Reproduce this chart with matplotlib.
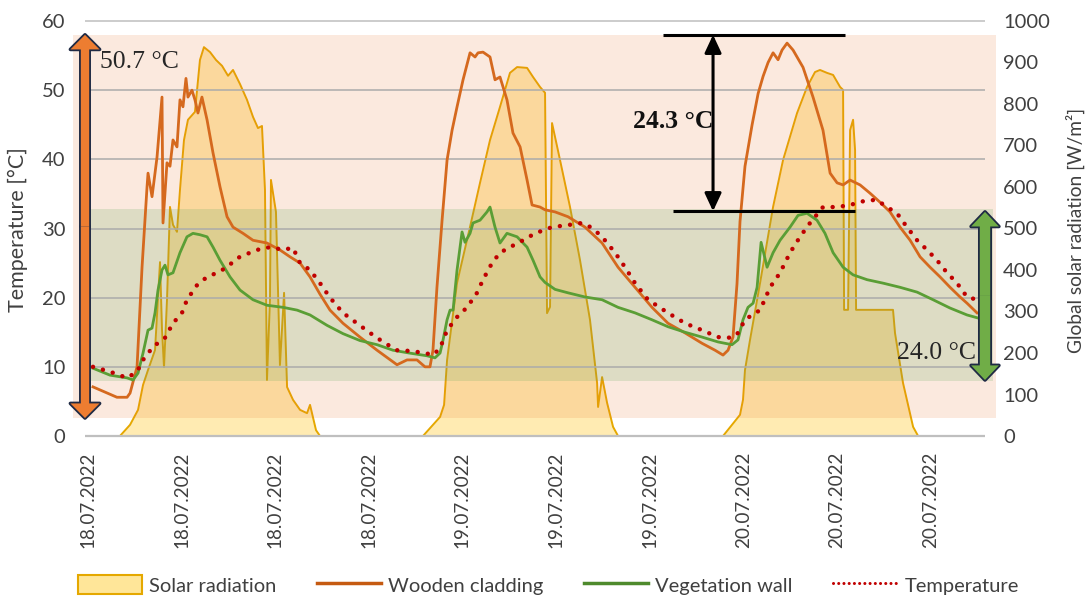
import matplotlib
matplotlib.use("Agg")
import matplotlib.pyplot as plt
from matplotlib.patches import Rectangle, FancyArrowPatch, Patch
from matplotlib.lines import Line2D

# ---------------- data (x in hours from 18.07.2022 00:00) ----------------
solar_h = [0.40, 2.56, 3.37, 4.01, 4.41, 4.81, 5.37, 5.77, 5.93, 6.09, 6.33, 6.57, 6.81,
           7.13, 7.37, 7.69, 8.01, 8.57, 8.97, 9.29, 9.78, 10.26, 10.74, 11.22, 11.62,
           12.18, 12.74, 13.22, 13.62, 13.94, 14.18, 14.34, 14.58, 14.66, 15.06, 15.38,
           15.71, 15.95, 16.43, 16.99, 17.55, 17.79, 18.27, 18.59,
           26.84, 28.21, 28.53, 28.77, 29.57, 30.61, 31.41, 32.21, 33.01, 33.81, 34.38,
           35.18, 35.66, 36.22, 36.62, 36.78, 37.02, 37.18, 37.82, 38.62, 39.42, 40.22,
           40.79, 40.87, 41.19, 41.59, 42.07, 42.47,
           50.88, 52.24, 52.48, 52.64, 53.04, 53.85, 54.89, 55.69, 56.81, 57.61, 58.25,
           58.65, 59.21, 59.70, 60.26, 60.50, 60.58, 60.90, 61.06, 61.30, 61.46, 61.54,
           64.50, 64.66, 65.30, 66.11, 66.51, 71.23]
solar_wm2 = [0, 0, 27, 63, 123, 159, 207, 419, 256, 166, 328, 552, 509,
             492, 593, 713, 762, 781, 906, 937, 925, 906, 892, 868, 882,
             848, 810, 769, 742, 747, 593, 135, 328, 617, 540, 171,
             345, 118, 87, 63, 55, 75, 14, 0,
             0, 46, 75, 183, 369, 504, 610, 713, 793, 875, 889,
             887, 865, 841, 827, 296, 311, 754, 665, 552, 424, 280,
             128, 70, 142, 80, 22, 0,
             0, 51, 87, 159, 231, 369, 552, 665, 778, 841, 877,
             882, 875, 870, 841, 834, 304, 304, 737, 762, 689, 304,
             304, 248, 128, 22, 0, 0]

wood_h = [0.40, 2.32, 3.13, 3.37, 3.93, 4.33, 4.73, 4.81, 5.13, 5.53, 5.93, 6.01, 6.33,
          6.57, 6.81, 7.13, 7.37, 7.61, 7.85, 8.01, 8.33, 8.57, 8.81, 9.13, 9.54, 10.02,
          10.58, 11.14, 11.62, 12.42, 13.22, 14.34, 15.38, 16.19, 16.99, 17.79, 18.59,
          19.39, 20.43, 21.79, 23.16, 24.76, 25.56, 26.36, 27.00, 27.40, 27.64, 27.96,
          28.37, 28.77, 29.17, 29.57, 30.05, 30.61, 31.01, 31.25, 31.65, 32.21, 32.61,
          33.01, 33.57, 34.05, 34.62, 35.18, 35.58, 36.22, 36.62, 37.42, 38.46, 39.82,
          41.19, 42.47, 43.83, 45.19, 46.47, 47.84, 49.20, 50.24, 50.88, 51.28, 51.68,
          52.00, 52.24, 52.64, 53.21, 53.69, 54.09, 54.49, 54.89, 55.29, 55.61, 56.01,
          56.49, 57.29, 58.09, 58.89, 59.46, 60.02, 60.50, 61.06, 61.86, 62.66, 63.46,
          64.26, 65.06, 65.87, 66.67, 67.47, 68.27, 69.07, 69.87, 70.43, 71.23]
wood_c = [7.1, 5.6, 5.6, 6.2, 10.0, 24.4, 36.0, 38.0, 34.6, 40.3, 49.0, 30.8, 39.5,
          39.0, 42.8, 41.8, 48.6, 47.6, 51.7, 49.0, 50.0, 48.6, 46.7, 49.0, 45.7, 40.9,
          36.0, 31.7, 30.2, 29.3, 28.3, 27.9, 26.9, 25.9, 25.0, 23.0, 20.5,
          18.2, 16.3, 14.3, 12.4, 10.3, 11.0, 11.0, 10.0, 10.0, 12.4, 21.5,
          31.2, 39.9, 44.2, 47.6, 51.5, 55.4, 54.8, 55.4, 55.5, 54.8, 51.5,
          51.9, 48.6, 43.8, 41.8, 37.0, 33.4, 33.1, 32.7, 32.4, 31.7, 30.2,
          27.9, 24.4, 21.5, 18.6, 16.3, 14.9, 13.4, 12.4, 11.7, 12.4, 14.3,
          22.0, 31.0, 39.0, 45.0, 49.5, 52.0, 54.0, 55.4, 54.4, 55.8, 56.8,
          55.8, 53.3, 49.0, 44.2, 38.0, 36.6, 36.3, 37.0, 36.3, 35.1, 33.8,
          32.4, 30.2, 28.3, 25.9, 24.4, 23.0, 21.5, 20.1, 19.2, 17.8]

veg_h = [0.40, 1.76, 3.13, 3.61, 4.01, 4.41, 4.81, 5.13, 5.37, 5.61, 5.93, 6.17, 6.41,
         6.81, 7.37, 7.93, 8.41, 8.97, 9.54, 10.02, 10.58, 11.38, 12.18, 13.22, 14.34,
         15.63, 16.75, 17.79, 19.15, 20.43, 21.79, 23.16, 24.44, 25.72, 27.16, 27.80,
         28.21, 28.45, 28.77, 29.01, 29.25, 29.57, 29.97, 30.21, 30.61, 30.85, 31.41,
         31.97, 32.21, 32.61, 33.01, 33.57, 34.38, 35.18, 35.66, 36.22, 36.62, 37.42,
         38.46, 39.82, 41.19, 42.47, 43.83, 45.19, 46.47, 47.84, 49.20, 50.48, 51.60,
         52.08, 52.48, 52.88, 53.29, 53.61, 53.93, 54.41, 54.89, 55.45, 56.25, 56.89,
         57.61, 58.41, 59.05, 59.70, 60.50, 61.30, 62.42, 63.70, 65.06, 66.43, 67.71,
         69.07, 70.43, 71.23]
veg_c = [9.8, 8.8, 8.4, 8.1, 9.1, 12.0, 15.3, 15.6, 17.8, 21.1, 24.0, 24.7, 23.3,
         23.6, 26.5, 28.8, 29.3, 29.1, 28.8, 27.3, 25.4, 23.0, 21.1, 19.7, 18.9,
         18.6, 18.2, 17.5, 16.0, 14.8, 13.8, 13.2, 12.4, 12.0, 11.6, 11.3,
         12.0, 13.9, 16.8, 18.2, 18.2, 24.0, 29.5, 28.0, 29.3, 30.8, 31.2,
         32.4, 33.1, 30.2, 27.9, 29.3, 28.8, 27.3, 25.4, 23.0, 22.2, 21.2,
         20.7, 20.1, 19.7, 18.6, 17.8, 16.8, 15.8, 15.0, 14.3, 13.6, 13.2,
         13.9, 16.8, 18.6, 19.2, 21.5, 28.0, 24.4, 26.5, 28.3, 30.2, 31.9,
         32.2, 31.2, 29.3, 26.5, 24.4, 23.3, 22.6, 22.1, 21.5, 20.8, 19.7,
         18.5, 17.5, 17.1]

temp_h = [0.40, 1.76, 3.13, 3.93, 4.41, 5.21, 6.17, 6.81, 7.53, 7.93, 8.73, 9.54, 10.34,
          11.14, 11.94, 12.98, 14.02, 14.82, 15.54, 16.43, 16.99, 17.79, 18.59, 19.39,
          20.43, 21.55, 22.60, 23.64, 24.76, 25.80, 27.00, 27.64, 28.21, 28.77, 29.57,
          30.37, 31.17, 31.65, 32.37, 33.01, 33.81, 34.86, 35.82, 37.18, 38.46, 39.58,
          40.38, 41.19, 42.23, 43.03, 43.83, 44.87, 46.47, 47.84, 49.20, 50.48, 51.60,
          52.08, 52.64, 53.21, 53.85, 54.65, 55.45, 56.25, 57.05, 57.85, 58.89, 60.02,
          61.06, 62.42, 63.22, 64.02, 64.82, 65.62, 66.43, 67.23, 68.03, 68.83, 69.63,
          70.43, 71.23]
temp_c = [10.0, 9.3, 8.4, 9.3, 11.0, 12.9, 14.2, 16.3, 17.8, 19.7, 21.8, 23.0, 23.6,
          24.4, 25.7, 26.5, 27.2, 27.3, 26.9, 27.2, 25.0, 24.0, 22.1, 20.0,
          17.8, 16.3, 14.9, 13.6, 12.4, 12.3, 12.0, 11.7, 12.7, 15.3, 17.2,
          18.6, 20.7, 22.6, 25.0, 26.5, 27.3, 28.3, 29.3, 30.2, 30.5, 30.8,
          30.1, 28.8, 26.5, 24.4, 22.1, 19.7, 17.8, 16.3, 15.3, 14.3, 14.2,
          14.9, 16.8, 17.5, 18.2, 21.5, 23.6, 26.5, 28.8, 30.8, 33.1, 33.1,
          33.4, 34.1, 34.1, 33.1, 32.2, 30.2, 28.3, 26.9, 25.4, 23.6, 22.1,
          20.1, 19.7]

xtick_h = [0.0, 7.5, 15.0, 22.5, 30.0, 37.5, 45.0, 52.5, 60.0, 67.5]
xtick_labels = ["18.07.2022"] * 4 + ["19.07.2022"] * 3 + ["20.07.2022"] * 3
temp_ticks = [0, 10, 20, 30, 40, 50, 60]
rad_ticks = list(range(0, 1001, 100))

# annotation values
wood_range = (2.6, 58.0)     # orange band / arrow (50.7 °C)
veg_range = (8.0, 32.8)      # green band / arrow (24.0 °C)
peak_lines = (58.0, 32.5)    # black marker lines (24.3 °C)

# ---------------- figure ----------------
W, H = 1090, 601
fig = plt.figure(figsize=(W / 100, H / 100), dpi=100)
rect = [85 / W, 1 - 436 / H, 900 / W, 415 / H]
ax1 = fig.add_axes(rect)
ax2 = ax1.twinx()
ax1.set_zorder(ax2.get_zorder() + 1)
ax1.patch.set_visible(False)

tick_font = "Lato"
tick_col = "#404040"

# solar radiation (right axis)
ax2.fill_between(solar_h, solar_wm2, 0, color="#FFD966", alpha=0.5, lw=0, zorder=1)
ax2.plot(solar_h, solar_wm2, color="#E5A800", lw=1.4, zorder=2)
ax2.set_ylim(0, 1000)
ax2.set_yticks(rad_ticks)
ax2.set_yticklabels([str(v) for v in rad_ticks], fontfamily=tick_font, fontsize=14.5,
                    color=tick_col)

ax1.set_xlim(-0.24, 71.87)
ax1.set_ylim(0, 60)

# bands
ax1.add_patch(Rectangle((-1.2, wood_range[0]), 73.96, wood_range[1] - wood_range[0],
                        facecolor="#E97128", alpha=0.15, lw=0, zorder=0.2, clip_on=False))
ax1.add_patch(Rectangle((0.16, veg_range[0]), 72.34, veg_range[1] - veg_range[0],
                        facecolor="#66A95D", alpha=0.2, lw=0, zorder=0.3, clip_on=False))

# gridlines
for t in temp_ticks:
    col = "#BFBFBF" if t in (0, 60) else "#ABABAB"
    ax1.hlines(t, -0.24, 71.87, color=col, lw=1.6 if t == 0 else 1.1, zorder=0.5,
               clip_on=False)

# lines
ax1.plot(wood_h, wood_c, color="#D5691E", lw=2.0, zorder=3, solid_joinstyle="round")
ax1.plot(veg_h, veg_c, color="#5A9E35", lw=2.0, zorder=3.2, solid_joinstyle="round")
ax1.plot(temp_h, temp_c, color="#C00000", lw=3.2, ls=(0, (0.01, 2.3)),
         dash_capstyle="round", zorder=3.4)

for a in (ax1, ax2):
    for s in a.spines.values():
        s.set_visible(False)
    a.tick_params(length=0)

ax1.set_yticks(temp_ticks)
ax1.set_yticklabels([str(v) for v in temp_ticks], fontfamily=tick_font, fontsize=14.5,
                    color=tick_col)
ax1.tick_params(axis="y", pad=14)
ax2.tick_params(axis="y", pad=13)
ax1.set_xticks(xtick_h)
ax1.set_xticklabels(xtick_labels, rotation=90, fontfamily=tick_font, fontsize=13.6,
                    color=tick_col)
ax1.tick_params(axis="x", pad=11)

fig.text(18 / W, 1 - 230 / H, "Temperature [°C]", rotation=90, ha="center", va="center",
         fontfamily=tick_font, fontsize=15.5, color=tick_col)
fig.text(1075 / W, 1 - 230 / H, "Global solar radiation [W/m²]", rotation=90,
         ha="center", va="center", fontfamily=tick_font, fontsize=13.8, color=tick_col)


# double arrows
def fat_double_arrow(ax, x, y0, y1, color, tail, head_w, head_l):
    ym = (y0 + y1) / 2
    style = f"simple,tail_width={tail},head_width={head_w},head_length={head_l}"
    for lw, ec, z in ((2.6, "#1F2A44", 6), (0, "none", 6.5)):
        for yend in (y0, y1):
            ax.add_patch(FancyArrowPatch((x, ym), (x, yend), arrowstyle=style,
                                         mutation_scale=1, facecolor=color, edgecolor=ec,
                                         lw=lw, shrinkA=0, shrinkB=0, zorder=z,
                                         clip_on=False))


fat_double_arrow(ax1, -0.24, wood_range[1], wood_range[0], "#ED7D31", 6, 21, 10.5)
fat_double_arrow(ax1, 71.87, veg_range[1] - 0.4, veg_range[0] + 0.1, "#70AD47", 7.5, 20, 10.5)

serif = "Liberation Serif"
ax1.text(0.96, 54.1, "50.7 °C", fontfamily=serif, fontsize=18.5, color="#262626",
         va="center", ha="left", zorder=7)
ax1.text(64.82, 12.0, "24.0 °C", fontfamily=serif, fontsize=18.5, color="#262626",
         va="center", ha="left", zorder=7)
ax1.text(43.67, 45.5, "24.3 °C", fontfamily=serif, fontsize=18.5, fontweight="bold",
         color="#111111", va="center", ha="left", zorder=7)

# black measurement marker
ax1.plot([46.07, 60.66], [peak_lines[0]] * 2, color="black", lw=2.2, zorder=7,
         solid_capstyle="butt")
ax1.plot([46.88, 61.46], [peak_lines[1]] * 2, color="black", lw=2.2, zorder=7,
         solid_capstyle="butt")
ax1.annotate("", xy=(50.08, peak_lines[0]), xytext=(50.08, peak_lines[1]),
             arrowprops=dict(arrowstyle="<|-|>,head_length=0.6,head_width=0.28",
                             color="black", lw=2.2, mutation_scale=18, shrinkA=0,
                             shrinkB=0), zorder=7)

# legend
handles = [
    Patch(facecolor="#FFE699", edgecolor="#E5A800", lw=1.5),
    Line2D([], [], color="#C55A11", lw=2.5),
    Line2D([], [], color="#4E8A2C", lw=2.5),
    Line2D([], [], color="#C00000", lw=2.2, ls=(0, (0.01, 1.7)), dash_capstyle="round"),
]
labels = ["Solar radiation", "Wooden cladding", "Vegetation wall", "Temperature"]
leg = fig.legend(handles, labels, loc="center", bbox_to_anchor=(0.503, 0.027), ncol=4,
                 frameon=False, prop={"family": "Lato", "size": 14.5},
                 handlelength=3.2, handleheight=1.1, handletextpad=0.35,
                 columnspacing=2.0)
for t in leg.get_texts():
    t.set_color(tick_col)

fig.savefig("out.png", dpi=100)
